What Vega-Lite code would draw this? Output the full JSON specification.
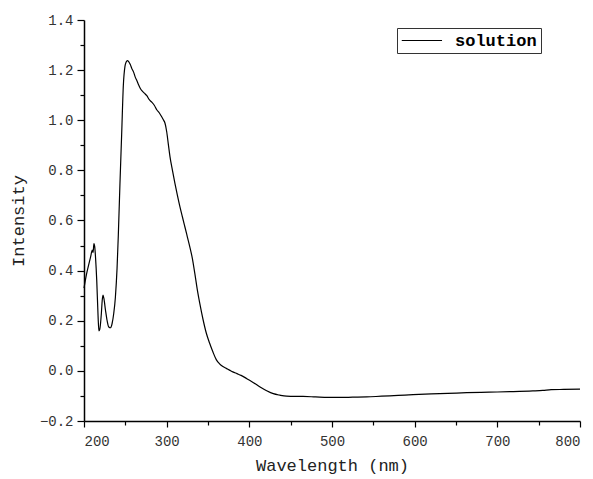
{
  "$schema": "https://vega.github.io/schema/vega-lite/v6.json",
  "width": 496,
  "height": 401,
  "autosize": {"type": "none"},
  "padding": {"left": 84, "top": 20, "right": 13, "bottom": 58},
  "background": "white",
  "config": {
    "view": {"stroke": null},
    "font": "Liberation Mono",
    "axis": {
      "grid": false,
      "domainColor": "black",
      "domainWidth": 1.5,
      "tickColor": "black",
      "tickWidth": 1.2,
      "labelFont": "Liberation Mono",
      "labelFontSize": 14,
      "labelColor": "#333333",
      "titleFont": "Liberation Mono",
      "titleFontSize": 17,
      "titleFontWeight": "normal",
      "titleColor": "#222222"
    }
  },
  "data": {"values": [
    {"w": 200, "v": 0.330, "s": "solution"},
    {"w": 203, "v": 0.385, "s": "solution"},
    {"w": 206, "v": 0.428, "s": "solution"},
    {"w": 208, "v": 0.455, "s": "solution"},
    {"w": 210, "v": 0.482, "s": "solution"},
    {"w": 211, "v": 0.472, "s": "solution"},
    {"w": 212, "v": 0.508, "s": "solution"},
    {"w": 213, "v": 0.495, "s": "solution"},
    {"w": 214, "v": 0.450, "s": "solution"},
    {"w": 215.4, "v": 0.362, "s": "solution"},
    {"w": 217, "v": 0.220, "s": "solution"},
    {"w": 218, "v": 0.160, "s": "solution"},
    {"w": 219, "v": 0.165, "s": "solution"},
    {"w": 221, "v": 0.229, "s": "solution"},
    {"w": 222, "v": 0.280, "s": "solution"},
    {"w": 223, "v": 0.302, "s": "solution"},
    {"w": 224, "v": 0.290, "s": "solution"},
    {"w": 226, "v": 0.242, "s": "solution"},
    {"w": 228, "v": 0.200, "s": "solution"},
    {"w": 230, "v": 0.175, "s": "solution"},
    {"w": 232, "v": 0.172, "s": "solution"},
    {"w": 234, "v": 0.189, "s": "solution"},
    {"w": 236, "v": 0.230, "s": "solution"},
    {"w": 238, "v": 0.295, "s": "solution"},
    {"w": 240, "v": 0.410, "s": "solution"},
    {"w": 241.5, "v": 0.540, "s": "solution"},
    {"w": 243.5, "v": 0.748, "s": "solution"},
    {"w": 245.6, "v": 0.948, "s": "solution"},
    {"w": 247.6, "v": 1.140, "s": "solution"},
    {"w": 249.6, "v": 1.216, "s": "solution"},
    {"w": 251, "v": 1.232, "s": "solution"},
    {"w": 252.5, "v": 1.238, "s": "solution"},
    {"w": 254, "v": 1.234, "s": "solution"},
    {"w": 256, "v": 1.222, "s": "solution"},
    {"w": 258, "v": 1.205, "s": "solution"},
    {"w": 260, "v": 1.192, "s": "solution"},
    {"w": 262, "v": 1.172, "s": "solution"},
    {"w": 264, "v": 1.158, "s": "solution"},
    {"w": 266, "v": 1.142, "s": "solution"},
    {"w": 268, "v": 1.128, "s": "solution"},
    {"w": 270, "v": 1.118, "s": "solution"},
    {"w": 273, "v": 1.108, "s": "solution"},
    {"w": 276, "v": 1.098, "s": "solution"},
    {"w": 279, "v": 1.082, "s": "solution"},
    {"w": 282, "v": 1.072, "s": "solution"},
    {"w": 285, "v": 1.060, "s": "solution"},
    {"w": 288, "v": 1.042, "s": "solution"},
    {"w": 291, "v": 1.030, "s": "solution"},
    {"w": 294, "v": 1.014, "s": "solution"},
    {"w": 296, "v": 1.002, "s": "solution"},
    {"w": 298, "v": 0.988, "s": "solution"},
    {"w": 300, "v": 0.955, "s": "solution"},
    {"w": 302, "v": 0.905, "s": "solution"},
    {"w": 304, "v": 0.855, "s": "solution"},
    {"w": 307, "v": 0.800, "s": "solution"},
    {"w": 310, "v": 0.748, "s": "solution"},
    {"w": 313, "v": 0.700, "s": "solution"},
    {"w": 316, "v": 0.655, "s": "solution"},
    {"w": 319, "v": 0.615, "s": "solution"},
    {"w": 322, "v": 0.575, "s": "solution"},
    {"w": 325, "v": 0.535, "s": "solution"},
    {"w": 328, "v": 0.495, "s": "solution"},
    {"w": 331, "v": 0.450, "s": "solution"},
    {"w": 334, "v": 0.390, "s": "solution"},
    {"w": 337, "v": 0.325, "s": "solution"},
    {"w": 340, "v": 0.270, "s": "solution"},
    {"w": 344, "v": 0.205, "s": "solution"},
    {"w": 348, "v": 0.150, "s": "solution"},
    {"w": 352, "v": 0.110, "s": "solution"},
    {"w": 356, "v": 0.075, "s": "solution"},
    {"w": 360, "v": 0.045, "s": "solution"},
    {"w": 364, "v": 0.028, "s": "solution"},
    {"w": 368, "v": 0.017, "s": "solution"},
    {"w": 372, "v": 0.010, "s": "solution"},
    {"w": 376, "v": 0.003, "s": "solution"},
    {"w": 380, "v": -0.004, "s": "solution"},
    {"w": 385, "v": -0.011, "s": "solution"},
    {"w": 390, "v": -0.018, "s": "solution"},
    {"w": 397, "v": -0.031, "s": "solution"},
    {"w": 405, "v": -0.047, "s": "solution"},
    {"w": 413, "v": -0.064, "s": "solution"},
    {"w": 421, "v": -0.079, "s": "solution"},
    {"w": 429, "v": -0.091, "s": "solution"},
    {"w": 437, "v": -0.097, "s": "solution"},
    {"w": 445, "v": -0.101, "s": "solution"},
    {"w": 455, "v": -0.102, "s": "solution"},
    {"w": 465, "v": -0.102, "s": "solution"},
    {"w": 480, "v": -0.104, "s": "solution"},
    {"w": 495, "v": -0.106, "s": "solution"},
    {"w": 510, "v": -0.106, "s": "solution"},
    {"w": 525, "v": -0.105, "s": "solution"},
    {"w": 542, "v": -0.104, "s": "solution"},
    {"w": 560, "v": -0.101, "s": "solution"},
    {"w": 580, "v": -0.098, "s": "solution"},
    {"w": 598, "v": -0.095, "s": "solution"},
    {"w": 620, "v": -0.092, "s": "solution"},
    {"w": 640, "v": -0.090, "s": "solution"},
    {"w": 663, "v": -0.087, "s": "solution"},
    {"w": 690, "v": -0.085, "s": "solution"},
    {"w": 715, "v": -0.083, "s": "solution"},
    {"w": 743, "v": -0.080, "s": "solution"},
    {"w": 755, "v": -0.078, "s": "solution"},
    {"w": 765, "v": -0.075, "s": "solution"},
    {"w": 780, "v": -0.074, "s": "solution"},
    {"w": 800, "v": -0.073, "s": "solution"}
  ]},
  "layer": [
    {
      "mark": {"type": "line", "opacity": 0},
      "encoding": {
        "x": {"field": "w", "type": "quantitative", "scale": {"domain": [200, 800], "nice": false},
          "axis": {"orient": "bottom", "values": [250, 350, 450, 550, 650, 750], "labels": false, "domain": false, "tickSize": 4, "title": null}},
        "y": {"field": "v", "type": "quantitative", "scale": {"domain": [-0.2, 1.4], "nice": false, "zero": false},
          "axis": {"orient": "left", "values": [-0.1, 0.1, 0.3, 0.5, 0.7, 0.9, 1.1, 1.3], "labels": false, "domain": false, "tickSize": 4, "title": null}}
      }
    },
    {
      "mark": {"type": "line", "strokeWidth": 1.2, "interpolate": "monotone"},
      "encoding": {
        "x": {"field": "w", "type": "quantitative", "scale": {"domain": [200, 800], "nice": false},
          "axis": {"orient": "bottom", "values": [200, 300, 400, 500, 600, 700, 800], "tickSize": 6, "labelPadding": 7, "title": "Wavelength (nm)", "titlePadding": 9}},
        "y": {"field": "v", "type": "quantitative", "scale": {"domain": [-0.2, 1.4], "nice": false, "zero": false},
          "axis": {"orient": "left", "values": [-0.2, 0, 0.2, 0.4, 0.6, 0.8, 1.0, 1.2, 1.4], "format": ".1f", "tickSize": 7, "labelPadding": 4, "title": "Intensity", "titlePadding": 12}},
        "color": {"field": "s", "type": "nominal", "scale": {"range": ["black"]},
          "legend": {"title": null, "orient": "none", "legendX": 313, "legendY": 8,
            "strokeColor": "#333333", "padding": 4, "symbolType": "M-1,0H4.2", "symbolSize": 240,
            "symbolStrokeWidth": 1, "symbolStrokeColor": "#555555", "labelFont": "Liberation Mono", "labelFontSize": 17,
            "labelFontWeight": "bold", "labelColor": "black", "labelOffset": 37}}
      }
    }
  ],
  "resolve": {"axis": {"x": "independent", "y": "independent"}}
}
